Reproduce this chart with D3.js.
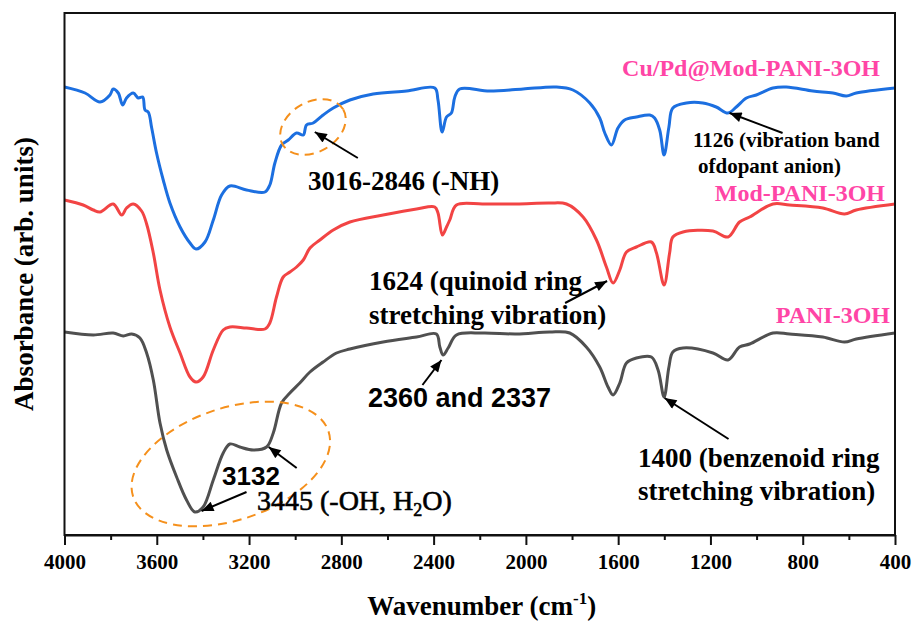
<!DOCTYPE html>
<html>
<head>
<meta charset="utf-8">
<script src="https://cdn.jsdelivr.net/npm/d3@7/dist/d3.min.js"></script>
<style>
  html, body { margin: 0; padding: 0; background: #fff; }
  svg { display: block; }
</style>
</head>
<body>
<svg id="chart" width="915" height="621"></svg>
<script>
// FTIR spectra: [wavenumber (cm-1), absorbance (arb. units, stacked offsets)]
const cuPdModPani = [
  [4000,4.48],[3911,4.42],[3846,4.33],[3803,4.40],[3789,4.46],[3767,4.42],[3748,4.30],
  [3731,4.37],[3702,4.42],[3680,4.37],[3661,4.38],[3651,4.25],[3637,4.23],[3622,4.07],
  [3601,3.82],[3572,3.55],[3543,3.32],[3499,3.08],[3456,2.92],[3430,2.86],[3391,2.93],
  [3355,3.15],[3319,3.40],[3283,3.49],[3211,3.45],[3131,3.43],[3110,3.50],[3088,3.72],
  [3059,3.90],[3030,3.95],[2994,4.02],[2965,4.00],[2951,4.10],[2922,4.12],[2879,4.20],
  [2835,4.27],[2763,4.35],[2662,4.41],[2517,4.44],[2395,4.47],[2381,4.35],[2363,4.03],
  [2344,4.18],[2323,4.22],[2308,4.38],[2287,4.46],[2157,4.44],[2012,4.46],[1868,4.48],
  [1796,4.45],[1723,4.32],[1680,4.17],[1658,4.02],[1629,3.90],[1601,4.07],[1572,4.15],
  [1521,4.18],[1463,4.20],[1442,4.17],[1420,4.05],[1401,3.80],[1380,4.08],[1363,4.27],
  [1304,4.32],[1233,4.32],[1175,4.28],[1124,4.22],[1088,4.28],[1044,4.37],[1001,4.40],
  [929,4.47],[871,4.48],[756,4.44],[669,4.42],[611,4.39],[568,4.42],[400,4.47]
];

const modPani = [
  [4000,3.35],[3919,3.30],[3875,3.25],[3846,3.23],[3789,3.31],[3752,3.20],[3731,3.27],
  [3702,3.31],[3666,3.24],[3644,3.11],[3615,2.82],[3586,2.45],[3543,2.08],[3499,1.82],
  [3456,1.58],[3430,1.53],[3399,1.58],[3355,1.85],[3312,2.05],[3283,2.08],[3211,2.07],
  [3131,2.06],[3110,2.12],[3081,2.38],[3052,2.58],[3023,2.63],[2994,2.68],[2965,2.75],
  [2936,2.87],[2893,2.95],[2835,3.05],[2763,3.13],[2619,3.20],[2474,3.26],[2395,3.28],
  [2381,3.22],[2362,3.00],[2344,3.08],[2330,3.15],[2301,3.30],[2186,3.31],[2041,3.31],
  [1897,3.32],[1824,3.31],[1752,3.18],[1694,2.95],[1651,2.68],[1622,2.52],[1593,2.65],
  [1564,2.83],[1521,2.88],[1456,2.93],[1434,2.82],[1401,2.50],[1377,2.82],[1363,2.98],
  [1319,3.03],[1189,3.04],[1124,2.98],[1074,3.13],[1030,3.18],[929,3.31],[857,3.30],
  [713,3.27],[619,3.21],[568,3.25],[400,3.31]
];

const pani = [
  [4000,2.03],[3875,2.00],[3789,2.02],[3745,1.99],[3709,2.01],[3673,1.97],[3644,1.82],
  [3615,1.55],[3586,1.12],[3557,0.85],[3514,0.58],[3471,0.35],[3435,0.23],[3399,0.28],
  [3355,0.55],[3312,0.82],[3283,0.91],[3240,0.88],[3182,0.85],[3124,0.88],[3095,1.02],
  [3059,1.32],[3023,1.42],[2980,1.52],[2936,1.63],[2879,1.73],[2821,1.82],[2763,1.86],
  [2619,1.93],[2474,1.98],[2388,2.01],[2373,1.88],[2359,1.80],[2337,1.87],[2301,2.00],
  [2186,2.02],[2041,2.01],[1897,2.03],[1810,2.02],[1738,1.88],[1680,1.68],[1644,1.48],
  [1622,1.40],[1593,1.52],[1564,1.72],[1521,1.77],[1456,1.78],[1427,1.65],[1401,1.38],
  [1380,1.68],[1363,1.83],[1319,1.87],[1189,1.82],[1124,1.75],[1074,1.88],[1030,1.91],
  [929,2.02],[857,2.01],[713,1.98],[619,1.93],[568,1.96],[400,2.02]
];

const seriesNames = ["Cu/Pd@Mod-PANI-3OH", "Mod-PANI-3OH", "PANI-3OH"];
const seriesColors = ["#1c6fe0", "#f24444", "#505050"];
const xTicks = [4000, 3600, 3200, 2800, 2400, 2000, 1600, 1200, 800, 400];
const xMinorTicks = [3800, 3400, 3000, 2600, 2200, 1800, 1400, 1000, 600];

const svg = d3.select("#chart");
const margin = { left: 64.5, right: 20, top: 13, bottom: 86 };
const W = 915, H = 621;
const x = d3.scaleLinear().domain([4000, 400]).range([margin.left, W - margin.right]);
const y = d3.scaleLinear().domain([0, 5.22]).range([H - margin.bottom, margin.top]);

const serif = "'Liberation Serif', 'Times New Roman', serif";
const sans = "'Liberation Sans', Arial, sans-serif";

// clip for spectra
svg.append("defs").append("clipPath").attr("id", "plotClip")
  .append("rect")
  .attr("x", x(4000)).attr("y", y(5.22))
  .attr("width", x(400) - x(4000)).attr("height", y(0) - y(5.22));

// arrowhead marker
svg.select("defs").append("marker")
  .attr("id", "arrowHead")
  .attr("viewBox", "0 0 12 10")
  .attr("refX", 12).attr("refY", 5)
  .attr("markerWidth", 13).attr("markerHeight", 10)
  .attr("markerUnits", "userSpaceOnUse")
  .attr("orient", "auto")
  .append("path").attr("d", "M0,0 L12,5 L0,10 Z").attr("fill", "#000");

// spectra
const line = d3.line()
  .x(d => x(d[0])).y(d => y(d[1]))
  .curve(d3.curveCatmullRom.alpha(0.5));
const plot = svg.append("g").attr("clip-path", "url(#plotClip)");
[cuPdModPani, modPani, pani].forEach((s, i) => {
  plot.append("path")
    .datum(s)
    .attr("d", line)
    .attr("fill", "none")
    .attr("stroke", seriesColors[i])
    .attr("stroke-width", 3)
    .attr("stroke-linejoin", "round");
});

// frame
svg.append("rect")
  .attr("x", x(4000)).attr("y", y(5.22))
  .attr("width", x(400) - x(4000)).attr("height", y(0) - y(5.22))
  .attr("fill", "none").attr("stroke", "#111").attr("stroke-width", 2);

// x axis: major and minor ticks
const xAxis = svg.append("g")
  .attr("transform", `translate(0,${y(0)})`)
  .call(d3.axisBottom(x).tickValues(xTicks).tickSize(10).tickSizeOuter(0).tickFormat(d3.format("d")));
xAxis.select(".domain").attr("stroke", "#111").attr("stroke-width", 2);
xAxis.selectAll(".tick line").attr("stroke", "#111").attr("stroke-width", 2);
xAxis.selectAll(".tick text")
  .attr("y", 34).attr("dy", null)
  .attr("font-family", serif).attr("font-weight", "bold")
  .attr("font-size", 21).attr("fill", "#000");

const xMinor = svg.append("g")
  .attr("transform", `translate(0,${y(0)})`)
  .call(d3.axisBottom(x).tickValues(xMinorTicks).tickSize(5).tickSizeOuter(0).tickFormat(""));
xMinor.select(".domain").remove();
xMinor.selectAll(".tick line").attr("stroke", "#111").attr("stroke-width", 2);

// axis titles
const xt = svg.append("text")
  .attr("x", (x(4000) + x(400)) / 2 + 2).attr("y", 615)
  .attr("text-anchor", "middle")
  .attr("font-family", serif).attr("font-weight", "bold").attr("font-size", 27)
  .attr("fill", "#000");
xt.append("tspan").text("Wavenumber (cm");
xt.append("tspan").attr("font-size", 17).attr("dy", -11).text("-1");
xt.append("tspan").attr("dy", 11).text(")");

svg.append("text")
  .attr("transform", `translate(33,${(y(0) + y(5.22)) / 2}) rotate(-90)`)
  .attr("text-anchor", "middle")
  .attr("font-family", serif).attr("font-weight", "bold").attr("font-size", 27)
  .attr("fill", "#000")
  .text("Absorbance (arb. units)");

// series labels
const labelPos = [[880, 76], [885, 201], [890, 323]];
seriesNames.forEach((n, i) => {
  svg.append("text")
    .attr("x", labelPos[i][0]).attr("y", labelPos[i][1])
    .attr("text-anchor", "end")
    .attr("font-family", serif).attr("font-weight", "bold").attr("font-size", 24)
    .attr("fill", "#ff45a6")
    .text(n);
});

// dashed ellipses highlighting bands
const ellipses = [
  { c: [2923, 4.08], rx: 35, ry: 25, rot: -30 },
  { c: [3279, 0.71], rx: 103, ry: 56, rot: -18.5 }
];
ellipses.forEach(e => {
  svg.append("ellipse")
    .attr("cx", 0).attr("cy", 0).attr("rx", e.rx).attr("ry", e.ry)
    .attr("transform", `translate(${x(e.c[0])},${y(e.c[1])}) rotate(${e.rot})`)
    .attr("fill", "none").attr("stroke", "#f5901c").attr("stroke-width", 2)
    .attr("stroke-dasharray", "9,6");
});

// band annotations: arrow tip at [wavenumber, absorbance], tail offset in px
const arrows = [
  { tip: [2915, 4.03], off: [43, 26] },
  { tip: [1117, 4.22], off: [53, 20] },
  { tip: [1648, 2.54], off: [-42, 22] },
  { tip: [2366, 1.75], off: [-19, 25] },
  { tip: [3115, 0.88], off: [28, 21] },
  { tip: [3406, 0.24], off: [45, -19] },
  { tip: [1399, 1.37], off: [64, 41] }
];
arrows.forEach(a => {
  const tx = x(a.tip[0]), ty = y(a.tip[1]);
  svg.append("line")
    .attr("x1", tx + a.off[0]).attr("y1", ty + a.off[1])
    .attr("x2", tx).attr("y2", ty)
    .attr("stroke", "#000").attr("stroke-width", 2)
    .attr("marker-end", "url(#arrowHead)");
});

function note(lines, xPos, yPos, opts) {
  const t = svg.append("text")
    .attr("font-family", opts.family || serif)
    .attr("font-weight", opts.weight || "bold")
    .attr("font-size", opts.size || 27)
    .attr("fill", "#000");
  lines.forEach((l, i) => {
    t.append("tspan").attr("x", xPos[i]).attr("y", yPos[i]).text(l);
  });
  return t;
}

note(["3016-2846 (-NH)"], [308], [190], {});
note(["1126 (vibration band", "ofdopant anion)"], [693, 698], [147, 173], { size: 21 });
note(["1624 (quinoid ring", "stretching vibration)"], [369, 369], [290, 324], {});
note(["2360 and 2337"], [368], [407], { family: sans });
note(["3132"], [222], [485], { family: sans, size: 26 });
note(["1400 (benzenoid ring", "stretching vibration)"], [638, 638], [467, 500], {});

const oh = svg.append("text")
  .attr("x", 257).attr("y", 510)
  .attr("font-family", serif).attr("font-weight", "normal").attr("font-size", 28)
  .attr("fill", "#000").attr("stroke", "#000").attr("stroke-width", 0.6);
oh.append("tspan").text("3445 (-OH, H");
oh.append("tspan").attr("font-size", 18).attr("dy", 6).text("2");
oh.append("tspan").attr("dy", -6).text("O)");
</script>
</body>
</html>
